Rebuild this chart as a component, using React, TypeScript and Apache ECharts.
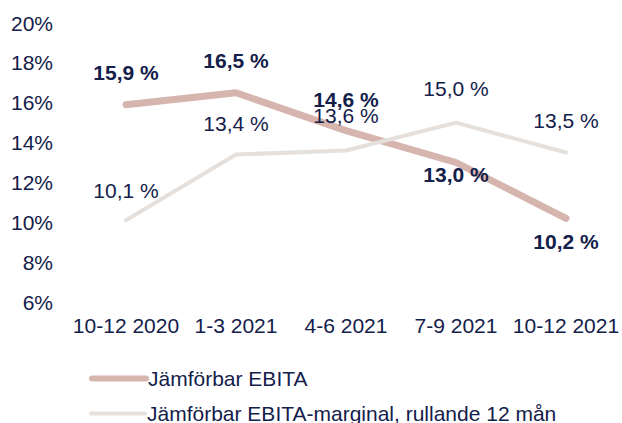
import React, { useEffect, useRef } from "react";
import * as echarts from "echarts";

const categories = ["10-12 2020", "1-3 2021", "4-6 2021", "7-9 2021", "10-12 2021"];
const ebita = [15.9, 16.5, 14.6, 13.0, 10.2];
const marginal = [10.1, 13.4, 13.6, 15.0, 13.5];
const ebitaLabelPos = ["top", "top", "top", "bottom", "bottom"];
const ebitaLabelDist = [22, 22, 21, 1, 13];
const marginalLabelDist = [19, 21, 25, 24, 22];
const seriesNames = ["Jämförbar EBITA", "Jämförbar EBITA-marginal, rullande 12 mån"];

const TEXT = "#13204a";
const FONT = "'Liberation Sans', Arial, sans-serif";
const FS = 21;
const C1 = "#d6b5ae";
const C2 = "#e5e0db";
const fmt = (v: number) => v.toFixed(1).replace(".", ",") + " %";

export default function App() {
  const ref = useRef<HTMLDivElement>(null);
  useEffect(() => {
    if (!ref.current) return;
    const chart = echarts.init(ref.current, undefined, { renderer: "svg" });
    const legendBase = {
      orient: "horizontal",
      left: 89,
      padding: 0,
      itemWidth: 54,
      itemHeight: 14,
      itemStyle: { opacity: 0 },
      textStyle: { color: TEXT, fontSize: FS, fontFamily: FONT, padding: [0, 0, 0, -3] },
    };
    chart.setOption({
      animation: false,
      textStyle: { fontFamily: FONT },
      grid: { left: 71, right: 0, top: 23, bottom: 121 },
      legend: [
        { ...legendBase, top: 368, data: [seriesNames[0]], lineStyle: { width: 6, color: C1 } },
        { ...legendBase, top: 403, data: [seriesNames[1]], lineStyle: { width: 4, color: C2 } },
      ],
      xAxis: {
        type: "category",
        data: categories,
        boundaryGap: true,
        axisLine: { show: false },
        axisTick: { show: false },
        axisLabel: { color: TEXT, fontSize: FS, margin: 13, interval: 0, fontFamily: FONT },
      },
      yAxis: {
        type: "value",
        min: 6,
        max: 20,
        interval: 2,
        axisLine: { show: false },
        axisTick: { show: false },
        splitLine: { show: false },
        axisLabel: { color: TEXT, fontSize: FS, margin: 18, formatter: "{value}%", fontFamily: FONT },
      },
      series: [
        {
          name: seriesNames[0],
          type: "line",
          data: ebita.map((v, i) => ({
            value: v,
            label: { position: ebitaLabelPos[i], distance: ebitaLabelDist[i] },
          })),
          symbol: "circle",
          symbolSize: 0,
          showSymbol: true,
          lineStyle: { color: C1, width: 7, cap: "round" },
          itemStyle: { color: C1 },
          label: {
            show: true,
            color: TEXT,
            fontSize: FS,
            fontWeight: "bold",
            fontFamily: FONT,
            formatter: (p: any) => fmt(p.value),
          },
          labelLayout: { hideOverlap: false },
          z: 2,
        },
        {
          name: seriesNames[1],
          type: "line",
          data: marginal.map((v, i) => ({ value: v, label: { distance: marginalLabelDist[i] } })),
          symbol: "circle",
          symbolSize: 0,
          showSymbol: true,
          lineStyle: { color: C2, width: 4, cap: "round" },
          itemStyle: { color: C2 },
          label: {
            show: true,
            position: "top",
            color: TEXT,
            fontSize: FS,
            fontFamily: FONT,
            formatter: (p: any) => fmt(p.value),
          },
          labelLayout: { hideOverlap: false },
          z: 3,
        },
      ],
    });
    return () => chart.dispose();
  }, []);
  return <div ref={ref} style={{ width: 622, height: 423, position: "absolute", left: 0, top: 0 }} />;
}
